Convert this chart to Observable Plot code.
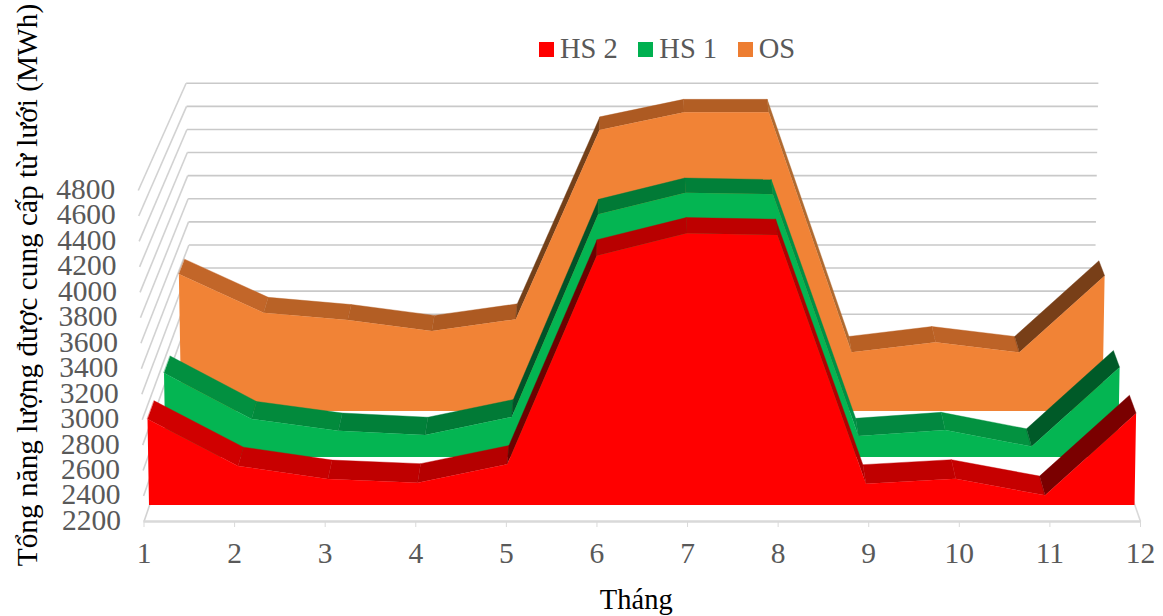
<!DOCTYPE html>
<html>
<head>
<meta charset="utf-8">
<script src="https://cdn.jsdelivr.net/npm/d3@7"></script>
<script src="https://cdn.jsdelivr.net/npm/@observablehq/plot@0.6"></script>
<style>
  html, body { margin: 0; padding: 0; background: #fff; }
  #chart { position: relative; width: 1163px; height: 616px; font-family: "Liberation Serif", serif; }
  #legend { position: absolute; top: 31px; left: 539px; display: flex; color: #595959; font-size: 28.5px; line-height: 36px; }
  #legend span.item { display: inline-flex; align-items: center; margin-right: 20.5px; }
  #legend i { display: inline-block; width: 15px; height: 15px; margin-right: 6px; }
</style>
</head>
<body>
<div id="chart">
  <div id="legend"></div>
</div>
<script>
const months = [1, 2, 3, 4, 5, 6, 7, 8, 9, 10, 11, 12];
const yTicks = [2200, 2400, 2600, 2800, 3000, 3200, 3400, 3600, 3800, 4000, 4200, 4400, 4600, 4800];
const hs2 = [2883, 2510, 2406, 2377, 2523, 4179, 4357, 4344, 2369, 2409, 2277, 2928];
const hs1 = [2890, 2512, 2416, 2381, 2528, 4193, 4370, 4357, 2372, 2422, 2285, 2936];
const os  = [3362, 3034, 2972, 2879, 2978, 4584, 4734, 4734, 2698, 2783, 2698, 3348];

const legendNames = ["HS 2", "HS 1", "OS"];
const legendColors = ["#ff0000", "#00b050", "#ed7d31"];

const faceOS = "#f18336", faceHS1 = "#04b552", faceHS2 = "#ff0000";
const topOS  = ["#c26629","#b96226","#b35e24","#ad5a22","#734019","#ad5a22","#b25e24","#b06a30","#b86024","#bd6327","#783f18"];
const topHS1 = ["#029040","#028a3c","#018039","#017a36","#015228","#017a36","#018039","#008f45","#028840","#039240","#005a28"];
const topHS2 = ["#d00000","#c80000","#bf0000","#b50000","#6e0000","#b80000","#be0000","#b00000","#c00000","#c60000","#7a0000"];

// Depth of each series inside the 3-D box (0 = front, 1 = back wall)
const depthHS2 = 0.116, depthHS1 = 0.464, depthOS = 0.797;
const ribbonHS2 = 0.14, ribbonHS1 = 0.13, ribbonOS = 0.12;

// Excel-like 3-D projection, expressed in data units of the front plane
const base = yTicks[0];
const shrink = (v, t) => (1 - 0.095 * t) * (1 + 0.0115 * (v - base) / 2600);
const px = (m, v, t) => 6.5 + (m - 6.5) * shrink(v, t);
const py = (v, t) => base + 1084 * t + (v - base) * (1 - 0.093 * t);

function faceRows(values, t) {
  return months.map((m, i) => ({
    x1: px(m, base, t), y1: py(base, t),
    x2: px(m, values[i], t), y2: py(values[i], t)
  }));
}
function ribbonRows(values, t, colors, dt) {
  const rows = [];
  for (let i = 0; i < months.length - 1; i++) {
    for (const j of [i, i + 1]) {
      rows.push({
        seg: i, color: colors[i],
        x1: px(months[j], values[j], t), y1: py(values[j], t),
        x2: px(months[j], values[j], t + dt), y2: py(values[j], t + dt)
      });
    }
  }
  return rows;
}
const seriesMarks = (values, t, face, tops, dt) => [
  Plot.area(ribbonRows(values, t, tops, dt), {x1: "x1", y1: "y1", x2: "x2", y2: "y2", z: "seg", fill: "color", stroke: "color", strokeWidth: 0.4}),
  Plot.area(faceRows(values, t), {x1: "x1", y1: "y1", x2: "x2", y2: "y2", fill: face})
];

const title = "Tổng năng lượng được cung cấp từ lưới (MWh)";
const serif = "Liberation Serif";

const chart = Plot.plot({
  width: 1163,
  height: 616,
  marginLeft: 143.5,
  marginRight: 23,
  marginTop: 190,
  marginBottom: 95,
  style: {background: "transparent", fontFamily: serif},
  color: {type: "identity"},
  x: {domain: [1, 12], axis: null},
  y: {domain: [2200, 4800], axis: null},
  marks: [
    // back wall grid
    Plot.link(yTicks, {x1: v => px(1, v, 1), x2: v => px(12, v, 1),
      y1: v => py(v, 1), y2: v => py(v, 1), stroke: "#c9c9c9", strokeWidth: 1.6}),
    // left wall grid
    Plot.link(yTicks, {x1: v => px(1, v, 0), y1: v => py(v, 0), x2: v => px(1, v, 1), y2: v => py(v, 1),
      stroke: "#d2d2d2", strokeWidth: 1.6}),
    // floor edges
    Plot.link([12], {x1: m => px(m, base, 0), y1: () => py(base, 0), x2: m => px(m, base, 1), y2: () => py(base, 1),
      stroke: "#d9d9d9", strokeWidth: 1.6}),
    ...seriesMarks(os, depthOS, faceOS, topOS, ribbonOS),
    ...seriesMarks(hs1, depthHS1, faceHS1, topHS1, ribbonHS1),
    ...seriesMarks(hs2, depthHS2, faceHS2, topHS2, ribbonHS2),
    Plot.ruleY([base], {stroke: "#d9d9d9", strokeWidth: 2.4}),
    Plot.axisX(months, {anchor: "bottom", tickSize: 6, tickPadding: 15, stroke: "#d9d9d9", color: "#595959",
      fontSize: 29.5, fontFamily: serif, textStroke: "none", label: null, tickFormat: d => String(d)}),
    Plot.text(yTicks, {x: v => px(1, v, 0), y: v => v, text: d => String(d), textAnchor: "end", dx: -23, dy: -1,
      fontSize: 29.5, fill: "#595959", fontFamily: serif}),
    Plot.text(["Tháng"], {frameAnchor: "bottom", dx: -6, dy: 87, fontSize: 28.5, fill: "#000", fontFamily: serif}),
    Plot.text([title], {frameAnchor: "left", rotate: -90, textAnchor: "middle", dx: -116, dy: -71, fontSize: 29.3, fill: "#000", fontFamily: serif})
  ]
});
document.getElementById("chart").prepend(chart);

const legend = document.getElementById("legend");
legendNames.forEach((name, i) => {
  const item = document.createElement("span");
  item.className = "item";
  const sw = document.createElement("i");
  sw.style.background = legendColors[i];
  item.append(sw, document.createTextNode(name));
  legend.append(item);
});
</script>
</body>
</html>
